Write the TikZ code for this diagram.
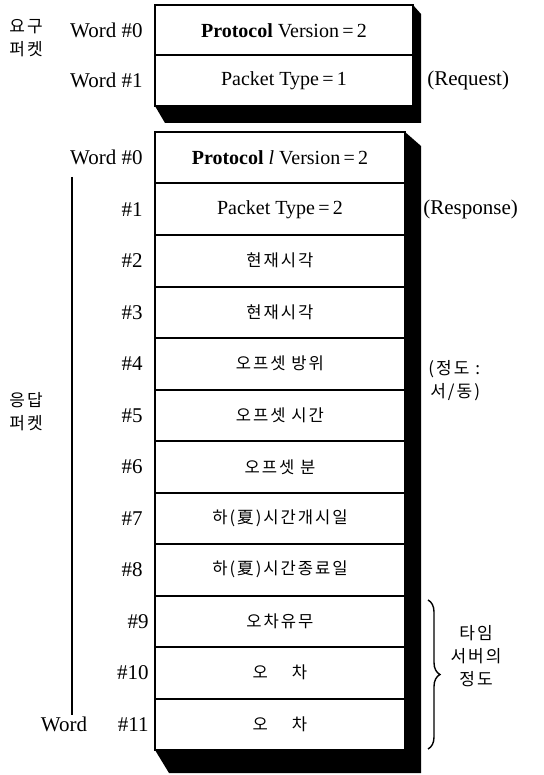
\documentclass[tikz,border=0pt]{standalone}
\usepackage{fontspec}
\setmainfont{Liberation Serif}
\newfontfamily\kr{Noto Sans CJK KR}
\newfontfamily\krw[LetterSpace=12]{Noto Sans CJK KR}
\usetikzlibrary{positioning, calc, backgrounds, decorations.pathreplacing}
\tikzset{
    cell/.style={rectangle, draw, line width=1pt, fill=white, outer sep=0pt, inner sep=0pt, align=center, font=\fontsize{10}{12}\selectfont},
    reqcell/.style={cell, minimum width=129pt, minimum height=25.25pt},
    rescell/.style={cell, minimum width=125pt, minimum height=25.75pt},
    wordlbl/.style={inner sep=0pt, font=\fontsize{10.5}{12}\selectfont},
    kor/.style={inner sep=0pt, font=\krw\fontsize{8.5}{11.5}\selectfont},
}
\newcommand{\krc}{\krw\fontsize{8.3}{10}\selectfont}

\begin{document}
\begin{tikzpicture}[x=0.5pt, y=-0.5pt]
    \useasboundingbox (0,0) rectangle (544,775);

    % request packet
    \node[reqcell] (req0) at (284,30.25) {\textbf{Protocol} Version\,=\,2};
    \node[reqcell, below=0pt of req0] (req1) {Packet Type\,=\,1};

    \node[wordlbl, left=6pt of req0] (rlbl0) {Word \#0};
    \node[wordlbl, left=6pt of req1] (rlbl1) {Word \#1};
    \node[kor, align=center] (reqname) at (26,38) {요구\\퍼켓};
    \node[wordlbl, right=7pt of req1] (reqtag) {(Request)};

    % response packet
    \node[rescell] (res0) at (280,157.75) {\textbf{Protocol} \textit{l} Version\,=\,2};
    \node[rescell, below=0pt of res0] (res1) {Packet Type\,=\,2};
    \node[rescell, below=0pt of res1] (res2) {\krc 현재시각};
    \node[rescell, below=0pt of res2] (res3) {\krc 현재시각};
    \node[rescell, below=0pt of res3] (res4) {\krc 오프셋 방위};
    \node[rescell, below=0pt of res4] (res5) {\krc 오프셋 시간};
    \node[rescell, below=0pt of res5] (res6) {\krc 오프셋 분};
    \node[rescell, below=0pt of res6] (res7) {\krc 하(夏)시간개시일};
    \node[rescell, below=0pt of res7] (res8) {\krc 하(夏)시간종료일};
    \node[rescell, below=0pt of res8] (res9) {\krc 오차유무};
    \node[rescell, below=0pt of res9] (res10) {\krc 오\hspace{12pt}차};
    \node[rescell, below=0pt of res10] (res11) {\krc 오\hspace{12pt}차};

    \node[wordlbl, left=6pt of res0] (lbl0) {Word \#0};
    \node[wordlbl, left=6pt of res1] (lbl1) {\#1};
    \node[wordlbl, left=6pt of res2] (lbl2) {\#2};
    \node[wordlbl, left=6pt of res3] (lbl3) {\#3};
    \node[wordlbl, left=6pt of res4] (lbl4) {\#4};
    \node[wordlbl, left=6pt of res5] (lbl5) {\#5};
    \node[wordlbl, left=6pt of res6] (lbl6) {\#6};
    \node[wordlbl, left=6pt of res7] (lbl7) {\#7};
    \node[wordlbl, left=6pt of res8] (lbl8) {\#8};
    \node[wordlbl, left=3pt of res9] (lbl9) {\#9};
    \node[wordlbl, left=3pt of res10] (lbl10) {\#10};
    \node[wordlbl, left=3pt of res11] (lbl11) {\#11};
    \node[wordlbl, left=15pt of lbl11] (lastword) {Word};

    \coordinate (spantop) at (72,177);
    \coordinate (spanbot) at (72,715);
    \draw[line width=0.6pt] (spantop) -- (spanbot);
    \node[kor, align=center] (resname) at (26,412) {응답\\퍼켓};

    \node[wordlbl, right=9pt of res1] (restag) {(Response)};
    \node[kor, align=right, anchor=west] (dirnote) at (428,381) {(정도 :\\서/동)};

    % error bracket
    \coordinate (bracetop) at (428,600);
    \coordinate (bracebot) at (428,749);
    \draw[line width=0.7pt, decorate, decoration={brace, amplitude=6pt}] (bracetop) -- (bracebot);
    \node[kor, align=center] (servnote) at (476,656) {타임\\서버의\\정도};

    % block shadows
    \begin{scope}[on background layer]
        \fill (req0.north east) -- ++(8,9) -- ($(req1.south east)+(8,17)$) -- ($(req1.south west)+(10,17)$) -- (req1.south west) -- cycle;
        \fill (res0.north east) -- ++(16,14) -- ($(res11.south east)+(16,23)$) -- ($(res11.south west)+(14,23)$) -- (res11.south west) -- cycle;
    \end{scope}

\end{tikzpicture}
\end{document}
